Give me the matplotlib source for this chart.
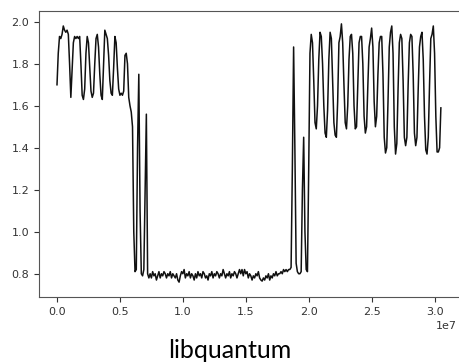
import numpy as np
import matplotlib
matplotlib.use("Agg")
import matplotlib.pyplot as plt

step = 1e5  # spacing between samples on the x axis

# first phase: oscillating around 1.65-1.95, then falling with two spikes
early = [1.70, 1.85, 1.93, 1.92, 1.94, 1.98, 1.96, 1.95, 1.96, 1.94,
         1.80, 1.64, 1.77, 1.90, 1.93, 1.92, 1.93, 1.92, 1.93, 1.80,
         1.65, 1.63, 1.68, 1.85, 1.93, 1.90, 1.78, 1.67, 1.64, 1.66,
         1.80, 1.92, 1.94, 1.88, 1.75, 1.65, 1.63, 1.80, 1.96, 1.94,
         1.92, 1.84, 1.72, 1.66, 1.65, 1.78, 1.93, 1.90, 1.78, 1.68,
         1.65, 1.66, 1.65, 1.67, 1.84, 1.85, 1.80, 1.64, 1.60, 1.57,
         1.50, 1.00, 0.81, 0.82, 1.40, 1.75, 1.10, 0.80, 0.79, 0.82,
         1.20, 1.56, 0.80, 0.78]

# flat noisy middle phase
middle = [0.80, 0.78, 0.81, 0.79, 0.80, 0.77, 0.79, 0.81, 0.78, 0.80,
          0.79, 0.81, 0.80, 0.78, 0.80, 0.79, 0.81, 0.78, 0.80, 0.79,
          0.78, 0.80, 0.77, 0.76, 0.79, 0.81, 0.80, 0.82, 0.78, 0.80,
          0.79, 0.81, 0.78, 0.80, 0.79, 0.77, 0.80, 0.78, 0.81, 0.79,
          0.80, 0.78, 0.81, 0.80, 0.78, 0.79, 0.77, 0.80, 0.79, 0.81,
          0.78, 0.80, 0.79, 0.81, 0.80, 0.78, 0.80, 0.79, 0.82, 0.80,
          0.78, 0.80, 0.79, 0.81, 0.78, 0.80, 0.79, 0.81, 0.80, 0.78,
          0.80, 0.82, 0.80, 0.82, 0.79, 0.82, 0.80, 0.81, 0.78, 0.80,
          0.79, 0.77, 0.79, 0.78, 0.80, 0.79, 0.81, 0.78, 0.77, 0.765,
          0.78, 0.77, 0.79, 0.78, 0.80, 0.77, 0.79, 0.78, 0.80, 0.79,
          0.81, 0.79, 0.80, 0.80, 0.81, 0.80, 0.82, 0.81, 0.82, 0.81,
          0.82]

# rise with spikes
rise = [0.82, 0.83, 1.30, 1.88, 1.40, 0.85, 0.81, 0.80, 0.80, 0.81,
        1.20, 1.45, 1.00, 0.82, 0.81, 1.30, 1.85]

# late phase: oscillating between ~1.4 and ~1.95
late = [1.94, 1.90, 1.72, 1.52, 1.49, 1.60, 1.82, 1.95, 1.93, 1.80,
        1.60, 1.47, 1.45, 1.58, 1.82, 1.95, 1.92, 1.72, 1.52, 1.46,
        1.45, 1.62, 1.90, 1.93, 1.99, 1.90, 1.70, 1.52, 1.49, 1.60,
        1.82, 1.93, 1.94, 1.85, 1.60, 1.49, 1.50, 1.70, 1.90, 1.93,
        1.93, 1.80, 1.55, 1.47, 1.50, 1.70, 1.88, 1.92, 1.97, 1.88,
        1.62, 1.50, 1.55, 1.75, 1.90, 1.93, 1.93, 1.75, 1.45, 1.375,
        1.40, 1.62, 1.88, 1.95, 1.98, 1.85, 1.50, 1.37, 1.42, 1.68,
        1.90, 1.94, 1.92, 1.72, 1.45, 1.41, 1.45, 1.70, 1.90, 1.94,
        1.93, 1.75, 1.47, 1.41, 1.45, 1.68, 1.88, 1.93, 1.95, 1.82,
        1.55, 1.39, 1.37, 1.45, 1.70, 1.92, 1.94, 1.98, 1.85, 1.55,
        1.38, 1.38, 1.40, 1.59]

y = np.array(early + middle + rise + late)
x = np.arange(len(y)) * step

fig = plt.figure(figsize=(4.59, 3.62), dpi=100)
ax = fig.add_axes([39 / 459, 0.18, 422 / 459, 0.79])
ax.plot(x, y, color='#111111', linewidth=1.1)
ax.set_xlim(-0.143e7, 3.21e7)
ax.set_ylim(0.69, 2.052)

for s in ax.spines.values():
    s.set_color('#555555')
ax.tick_params(labelsize=8, colors='#333333')
offset = ax.xaxis.get_offset_text()
offset.set_fontsize(8)
offset.set_color('#333333')
offset.set_x(0.99)

fig.text(0.5, 0.012, 'libquantum', ha='center', va='baseline',
         fontsize=18, family=['Lato', 'DejaVu Sans'])

fig.savefig('out.png', dpi=100)
